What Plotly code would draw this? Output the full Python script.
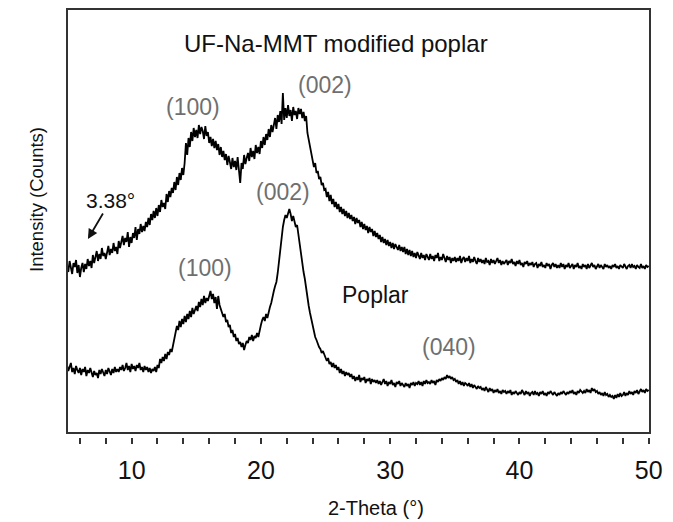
import plotly.graph_objects as go

# 2-theta sampling (degrees), 0.1 deg steps from 5.0 to 50.0
two_theta = [round(5 + 0.1 * i, 1) for i in range(451)]

# UF-Na-MMT modified poplar intensity (counts, arbitrary offset)
uf_mmt = [
    1680, 1610, 1720, 1640, 1590, 1700, 1660, 1730, 1600, 1680,
    1560, 1650, 1700, 1610, 1690, 1640, 1740, 1670, 1720, 1650,
    1780, 1700, 1760, 1820, 1720, 1790, 1740, 1850, 1770, 1800,
    1740, 1830, 1870, 1780, 1840, 1800, 1900, 1820, 1860, 1790,
    1920, 1850, 1900, 1970, 1880, 1950, 1910, 2010, 1860, 1960,
    1900, 2000, 1950, 2060, 1930, 2040, 1990, 2090, 2010, 2070,
    2020, 2110, 2060, 2150, 2080, 2190, 2130, 2220, 2150, 2250,
    2170, 2280, 2210, 2330, 2260, 2300, 2240, 2390, 2310, 2420,
    2360, 2450, 2400, 2510, 2430, 2560, 2480, 2600, 2530, 2650,
    2580, 2700, 2900, 2780, 2950, 2860, 3010, 2920, 3050, 2960,
    3030, 2950, 3080, 2990, 3060, 3020, 2940, 3070, 2970, 3010,
    2900, 2960, 2870, 2940, 2850, 2920, 2830, 2890, 2780, 2860,
    2760, 2820, 2730, 2790, 2680, 2770, 2710, 2640, 2750, 2660,
    2720, 2630, 2760, 2590, 2500, 2700, 2640, 2780, 2690, 2750,
    2800, 2720, 2850, 2760, 2820, 2740, 2880, 2800, 2860, 2790,
    2920, 2850, 2960, 2880, 2990, 2930, 3040, 2960, 3080, 3010,
    3090, 3150, 3040, 3180, 3110, 3220, 3090, 3400, 3130, 3250,
    3150, 3280, 3170, 3230, 3120, 3260, 3180, 3220, 3140, 3250,
    3190, 3240, 3150, 3210, 3120, 3170, 3000, 2930, 2850, 2780,
    2740, 2660, 2700, 2600, 2620, 2540, 2560, 2480, 2500, 2430,
    2440, 2360, 2410, 2320, 2380, 2290, 2340, 2260, 2310, 2240,
    2290, 2210, 2260, 2190, 2240, 2170, 2220, 2150, 2200, 2140,
    2180, 2120, 2160, 2090, 2150, 2100, 2130, 2060, 2110, 2040,
    2090, 2030, 2070, 2000, 2060, 2010, 2040, 1970, 2020, 1960,
    2000, 1940, 1980, 1910, 1960, 1900, 1940, 1880, 1930, 1870,
    1910, 1850, 1900, 1840, 1890, 1860, 1830, 1880, 1820, 1860,
    1810, 1860, 1790, 1840, 1780, 1830, 1770, 1820, 1760, 1800,
    1750, 1810, 1770, 1740, 1800, 1750, 1780, 1730, 1790, 1750,
    1730, 1790, 1740, 1770, 1720, 1780, 1750, 1800, 1720, 1760,
    1730, 1790, 1740, 1710, 1770, 1730, 1760, 1700, 1750, 1720,
    1760, 1710, 1750, 1720, 1770, 1700, 1740, 1760, 1710, 1750,
    1720, 1770, 1700, 1740, 1710, 1760, 1720, 1690, 1750, 1710,
    1740, 1700, 1730, 1690, 1750, 1710, 1720, 1680, 1740, 1700,
    1730, 1690, 1720, 1750, 1700, 1730, 1680, 1720, 1690, 1710,
    1730, 1680, 1720, 1700, 1740, 1690, 1710, 1670, 1720, 1690,
    1730, 1680, 1700, 1660, 1710, 1690, 1720, 1670, 1700, 1680,
    1710, 1660, 1690, 1700, 1650, 1690, 1670, 1710, 1660, 1680,
    1650, 1700, 1670, 1690, 1640, 1680, 1700, 1660, 1690, 1650,
    1680, 1650, 1700, 1660, 1690, 1640, 1680, 1660, 1700, 1650,
    1670, 1690, 1640, 1680, 1660, 1700, 1650, 1670, 1640, 1690,
    1660, 1680, 1640, 1690, 1650, 1670, 1700, 1660, 1680, 1640,
    1670, 1690, 1650, 1680, 1660, 1640, 1690, 1660, 1680, 1650,
    1670, 1640, 1680, 1660, 1690, 1650, 1670, 1640, 1680, 1660,
    1650, 1690, 1660, 1640, 1670, 1680, 1650, 1690, 1660, 1670,
    1640, 1680, 1660, 1650, 1690, 1650, 1670, 1640, 1680, 1660, 1670,
]

# Poplar intensity (counts, arbitrary offset)
poplar = [
    680, 620, 660, 700, 610, 650, 590, 670, 630, 600,
    650, 580, 640, 610, 660, 570, 630, 600, 650, 590,
    560, 620, 580, 600, 550, 630, 590, 640, 600, 570,
    630, 590, 650, 610, 580, 640, 600, 660, 610, 640,
    610, 660, 630, 680, 620, 650, 700, 630, 670, 610,
    690, 640, 670, 620, 680, 650, 700, 630, 660, 610,
    670, 630, 660, 610, 650, 600, 640, 620, 660, 610,
    680, 650, 740, 700, 760, 720, 790, 740, 810, 780,
    840, 810, 880, 940, 1000, 1070, 1030, 1120, 1060, 1140,
    1090, 1170, 1110, 1190, 1140, 1220, 1160, 1250, 1190, 1240,
    1270, 1220, 1310, 1260, 1340, 1280, 1370, 1300, 1350, 1320,
    1380, 1420, 1340, 1390, 1300, 1360, 1240, 1370, 1280, 1230,
    1210, 1160, 1190, 1110, 1130, 1060, 1080, 1000, 1030, 960,
    990, 920, 950, 890, 910, 860, 900, 830, 880, 920,
    900, 960, 930, 980, 920, 970, 950, 1000, 960, 1040,
    1080, 1130, 1160, 1120, 1190, 1150, 1220, 1260, 1300, 1380,
    1420, 1470, 1510, 1600, 1720, 1840, 1950, 2060, 2130, 2180,
    2150, 2210, 2240, 2190, 2120, 2170, 2110, 2060, 2080, 1980,
    1880, 1790, 1700, 1610, 1540, 1430, 1350, 1270, 1200, 1130,
    1070, 1010, 960, 930, 890, 860, 840, 800, 820, 780,
    760, 720, 750, 690, 710, 660, 700, 650, 680, 630,
    660, 600, 640, 590, 620, 570, 610, 580, 600, 560,
    590, 540, 570, 520, 560, 530, 580, 510, 550, 530,
    560, 500, 540, 520, 550, 490, 540, 510, 530, 500,
    530, 490, 520, 480, 510, 540, 490, 520, 470, 510,
    490, 530, 480, 500, 460, 510, 490, 520, 470, 500,
    480, 460, 500, 470, 490, 450, 500, 480, 510, 470,
    500, 490, 520, 480, 510, 470, 520, 490, 530, 500,
    510, 490, 530, 500, 520, 480, 530, 510, 540, 520,
    550, 530, 560, 540, 580, 550, 570, 540, 560, 530,
    540, 510, 530, 490, 520, 480, 510, 470, 500, 490,
    470, 500, 460, 490, 450, 480, 460, 440, 470, 450,
    460, 430, 450, 420, 460, 440, 410, 450, 420, 440,
    400, 430, 410, 440, 400, 420, 390, 430, 410, 420,
    390, 420, 400, 430, 380, 410, 390, 420, 400, 380,
    410, 390, 430, 400, 380, 420, 390, 410, 370, 400,
    410, 380, 420, 390, 400, 370, 410, 390, 420, 380,
    400, 370, 410, 390, 420, 400, 380, 410, 390, 370,
    400, 380, 410, 390, 420, 400, 380, 410, 390, 420,
    400, 430, 390, 410, 380, 420, 400, 430, 410, 400,
    420, 400, 440, 410, 430, 400, 450, 420, 440, 410,
    420, 390, 410, 380, 400, 370, 410, 380, 390, 360,
    380, 360, 370, 340, 380, 350, 390, 360, 400, 370,
    380, 410, 370, 400, 380, 420, 390, 410, 380, 420,
    400, 430, 390, 420, 440, 410, 430, 400, 440, 420, 430,
]

tick_vals = list(range(6, 51, 2))
tick_text = [str(v) if v % 10 == 0 else "" for v in tick_vals]

FONT = "Liberation Sans, Arial, sans-serif"
GRAY = "#6f6f6f"

fig = go.Figure()
for name, ys in [("UF-Na-MMT modified poplar", uf_mmt), ("Poplar", poplar)]:
    n = min(len(two_theta), len(ys))
    fig.add_trace(go.Scatter(x=two_theta[:n], y=ys[:n], mode="lines", name=name,
                             line=dict(color="#000000", width=1.8),
                             showlegend=False))

# page has an 8px body margin, so the figure is sized to fit the window
W, H = 665, 514
PAPER_H = 428
fig.update_layout(
    width=W, height=H,
    margin=dict(l=59, r=23, t=1, b=85),
    paper_bgcolor="white", plot_bgcolor="white",
    font=dict(family=FONT, color="#111111"),
    xaxis=dict(range=[5, 50.1], tickvals=tick_vals, ticktext=tick_text,
               ticks="outside", ticklen=6, tickwidth=2, tickcolor="#333333",
               showgrid=False, zeroline=False, showline=False,
               anchor="free", position=0,
               tickfont=dict(size=25, family=FONT, color="#111111"),
               ticklabelstandoff=5),
    yaxis=dict(range=[0, 4240], domain=[4 / PAPER_H, 1], showticklabels=False,
               ticks="", showgrid=False, zeroline=False, showline=False),
)

# frame
fig.add_shape(type="rect", xref="x domain", yref="y domain", x0=0, x1=1, y0=0, y1=1,
              line=dict(color="#333333", width=2))

def label(text, x, y, size=23, color=GRAY):
    fig.add_annotation(x=x, y=y, xref="x", yref="y", text=text, showarrow=False,
                       font=dict(size=size, color=color, family=FONT),
                       xanchor="center", yanchor="middle")

label("UF-Na-MMT modified poplar", 25.8, 3900, size=24, color="#111111")
label("(002)", 24.95, 3480)
label("(100)", 14.75, 3260)
label("3.38°", 8.4, 2330, size=21, color="#111111")
label("(002)", 21.7, 2410)
label("(100)", 15.67, 1650)
label("Poplar", 28.9, 1380, size=23, color="#111111")
label("(040)", 34.54, 860)

# arrow pointing at the 3.38 deg feature
fig.add_annotation(x=6.62, y=1940, ax=7.85, ay=2210, xref="x", yref="y",
                   axref="x", ayref="y", text="", showarrow=True, standoff=0,
                   arrowhead=2, arrowsize=1.1, arrowwidth=1.8, arrowcolor="#111111")

# axis titles
fig.add_annotation(x=28.9, y=(429 - 500) / PAPER_H, xref="x", yref="paper",
                   text="2-Theta (°)", showarrow=False, yanchor="middle",
                   font=dict(size=20, family="Liberation Sans Narrow, Arial Narrow, " + FONT,
                             color="#111111"))
fig.add_annotation(x=-31 / 583, y=(425 - 192) / PAPER_H + 4 / PAPER_H, xref="paper", yref="paper",
                   text="Intensity (Counts)", textangle=-90, showarrow=False,
                   xanchor="center", yanchor="middle",
                   font=dict(size=18.5, family=FONT, color="#111111"))

fig.write_html("out.html")
